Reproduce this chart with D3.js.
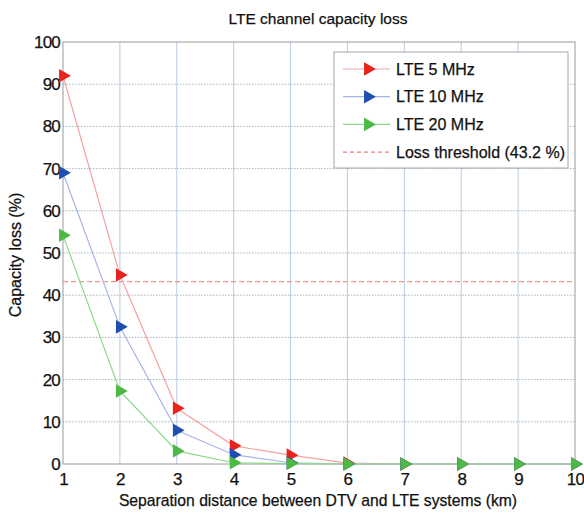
<!DOCTYPE html>
<html>
<head>
<meta charset="utf-8">
<script src="https://cdn.jsdelivr.net/npm/d3@7"></script>
<style>
  body { margin: 0; background: #fff; }
  text { font-family: "Liberation Sans", Arial, sans-serif; fill: #111; stroke: #111; stroke-width: 0.25px; }
</style>
</head>
<body>
<div id="chart"></div>
<script>
// data
const distances = [1, 2, 3, 4, 5, 6, 7, 8, 9, 10];
const lte5 = [92, 44.8, 13.2, 4.3, 2.1, 0.2, 0, 0, 0, 0];
const lte10 = [69, 32.5, 8, 2.2, 0.3, 0, 0, 0, 0, 0];
const lte20 = [54.2, 17.3, 3.1, 0.3, 0.1, 0, 0, 0, 0, 0];
const threshold = 43.2;
const yTicks = [0, 10, 20, 30, 40, 50, 60, 70, 80, 90, 100];
const seriesNames = ["LTE 5 MHz", "LTE 10 MHz", "LTE 20 MHz"];
const thresholdName = "Loss threshold (43.2 %)";

const series = [
    { name: seriesNames[0], values: lte5, line: "#f4a3a3", marker: "#e8231d" },
    { name: seriesNames[1], values: lte10, line: "#a6b4ea", marker: "#1d4eb0" },
    { name: seriesNames[2], values: lte20, line: "#8ed98a", marker: "#4cb944" }
];

const W = 584, H = 515;
const margin = { top: 42, right: 9, bottom: 51, left: 63 };
const width = W - margin.left - margin.right;
const height = H - margin.top - margin.bottom;

const svg = d3.select("#chart").append("svg")
    .attr("width", W)
    .attr("height", H);

const g = svg.append("g")
    .attr("transform", `translate(${margin.left},${margin.top})`);

const x = d3.scaleLinear().domain([1, 10]).range([0, width]);
const y = d3.scaleLinear().domain([0, 100]).range([height, 0]);

// grid
g.append("g")
    .selectAll("line")
    .data(distances.slice(1, -1))
    .join("line")
    .attr("x1", d => x(d)).attr("x2", d => x(d))
    .attr("y1", 0).attr("y2", height)
    .attr("stroke", "#b9cbe0")
    .attr("stroke-width", 1);

g.append("g")
    .selectAll("line")
    .data(yTicks.slice(1, -1))
    .join("line")
    .attr("x1", 0).attr("x2", width)
    .attr("y1", d => y(d)).attr("y2", d => y(d))
    .attr("stroke", "#a9b4be")
    .attr("stroke-width", 1)
    .attr("stroke-dasharray", "1.5,1.5");

// box
g.append("rect")
    .attr("width", width).attr("height", height)
    .attr("fill", "none")
    .attr("stroke", "#9a9a9a");

// threshold
g.append("line")
    .attr("x1", 0).attr("x2", width)
    .attr("y1", y(threshold)).attr("y2", y(threshold))
    .attr("stroke", "#f07a7a")
    .attr("stroke-dasharray", "5,3");

// axes
const xAxis = g.append("g")
    .attr("transform", `translate(0,${height})`)
    .call(d3.axisBottom(x).tickValues(distances).tickSize(0).tickPadding(7));
const yAxis = g.append("g")
    .call(d3.axisLeft(y).tickValues(yTicks).tickSize(0).tickPadding(3));
[xAxis, yAxis].forEach(a => {
    a.select(".domain").remove();
    a.selectAll("text")
        .style("font-size", "17px")
        .style("font-family", "'Liberation Sans', Arial, sans-serif")
        .style("letter-spacing", "-0.8px")
        .attr("fill", "#111");
});
xAxis.selectAll("text").attr("dy", "0.85em");

// lines + markers
const line = d3.line()
    .x((d, i) => x(distances[i]))
    .y(d => y(d));

const tri = d3.symbol().type(d3.symbolTriangle).size(80);

series.forEach(s => {
    g.append("path")
        .datum(s.values)
        .attr("d", line)
        .attr("fill", "none")
        .attr("stroke", s.line)
        .attr("stroke-width", 1.2);
});
series.forEach(s => {
    g.append("g")
        .selectAll("path")
        .data(s.values)
        .join("path")
        .attr("d", tri)
        .attr("transform", (d, i) => `translate(${x(distances[i])},${y(d)}) rotate(90)`)
        .attr("fill", s.marker);
});

// legend
const leg = svg.append("g").attr("transform", "translate(334,52)");
leg.append("rect")
    .attr("width", 234).attr("height", 116)
    .attr("fill", "#fff")
    .attr("stroke", "#a0a8b0");

const legItems = series.map(s => ({ name: s.name, line: s.line, marker: s.marker }))
    .concat([{ name: thresholdName, line: "#f07a7a", marker: null }]);

const li = leg.selectAll(".item")
    .data(legItems)
    .join("g")
    .attr("class", "item")
    .attr("transform", (d, i) => `translate(0,${17 + i * 27.7})`);

li.append("line")
    .attr("x1", 9).attr("x2", 56)
    .attr("stroke", d => d.line)
    .attr("stroke-width", 1.2)
    .attr("stroke-dasharray", d => d.marker ? null : "4,3");

li.filter(d => d.marker)
    .append("path")
    .attr("d", tri)
    .attr("transform", "translate(34,0) rotate(90)")
    .attr("fill", d => d.marker);

li.append("text")
    .attr("x", 62)
    .attr("dy", "0.35em")
    .style("font-size", "16px")
    .text(d => d.name);

// titles
svg.append("text")
    .attr("x", 318).attr("y", 24)
    .attr("text-anchor", "middle")
    .style("font-size", "15.5px")
    .text("LTE channel capacity loss");

svg.append("text")
    .attr("x", 318).attr("y", 506)
    .attr("text-anchor", "middle")
    .style("font-size", "15.7px")
    .text("Separation distance between DTV and LTE systems (km)");

svg.append("text")
    .attr("transform", "rotate(-90)")
    .attr("x", -255).attr("y", 21)
    .attr("text-anchor", "middle")
    .style("font-size", "16px")
    .text("Capacity loss (%)");
</script>
</body>
</html>
